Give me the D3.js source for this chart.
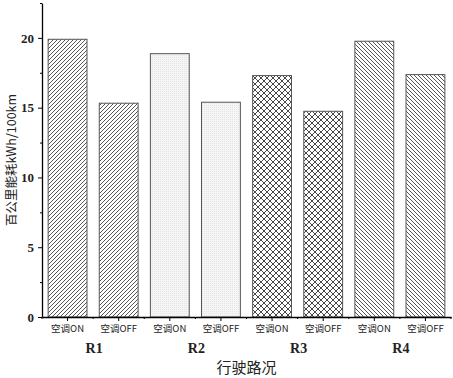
<!DOCTYPE html>
<html>
<head>
<meta charset="utf-8">
<script src="https://cdn.jsdelivr.net/npm/d3@7/dist/d3.min.js"></script>
<style>
  body { margin: 0; background: #fff; }
  svg { display: block; }
</style>
</head>
<body>
<div id="chart"></div>
<script>
// data
const routes = ['R1', 'R2', 'R3', 'R4'];
const acStates = ['空调ON', '空调OFF'];
const energy = [19.9, 15.32, 18.87, 15.39, 17.3, 14.74, 19.76, 17.37];
const yTicks = [0, 5, 10, 15, 20];
const yMinorTicks = [2.5, 7.5, 12.5, 17.5, 22.5];

const W = 453, H = 378;
const margin = { top: 3, right: 2, bottom: 61, left: 42 };
const width = W - margin.left - margin.right;
const height = H - margin.top - margin.bottom;

const bars = [];
routes.forEach((r, ri) => {
  acStates.forEach((s, si) => {
    const i = ri * acStates.length + si;
    bars.push({ key: r + '-' + s, route: r, ri, label: s, value: energy[i] });
  });
});

const svg = d3.select('#chart').append('svg')
  .attr('width', W).attr('height', H);

// hatch patterns, one per route
const defs = svg.append('defs');
const hatch = (id, size, draw) => {
  const p = defs.append('pattern').attr('id', id)
    .attr('patternUnits', 'userSpaceOnUse')
    .attr('width', size).attr('height', size);
  p.append('rect').attr('width', size).attr('height', size).attr('fill', '#fff');
  draw(p);
};
hatch('pat0', 4, p => p.append('path').attr('d', 'M-1,1 l2,-2 M0,4 l4,-4 M3,5 l2,-2')
  .attr('stroke', '#444').attr('stroke-width', 0.9));
hatch('pat1', 2, p => {
  p.append('rect').attr('width', 2).attr('height', 2).attr('fill', '#f5f5f5');
  p.append('rect').attr('width', 1).attr('height', 1).attr('fill', '#e6e6e6');
});
hatch('pat2', 6, p => p.append('path')
  .attr('d', 'M-1,1 l2,-2 M0,6 l6,-6 M5,7 l2,-2 M-1,5 l2,2 M0,0 l6,6 M5,-1 l2,2')
  .attr('stroke', '#333').attr('stroke-width', 0.9));
hatch('pat3', 4, p => p.append('path').attr('d', 'M-1,3 l2,2 M0,0 l4,4 M3,-1 l2,2')
  .attr('stroke', '#444').attr('stroke-width', 0.9));

const g = svg.append('g').attr('transform', `translate(${margin.left},${margin.top})`);

const x = d3.scaleBand().domain(bars.map(d => d.key)).range([0, width]).paddingInner(0.24).paddingOuter(0.12);
const y = d3.scaleLinear().domain([0, 22.5]).range([height, 0]);

// bars
g.selectAll('.bar').data(bars).join('rect')
  .attr('class', 'bar')
  .attr('x', d => x(d.key))
  .attr('y', d => y(d.value))
  .attr('width', x.bandwidth())
  .attr('height', d => y(0) - y(d.value))
  .attr('fill', d => `url(#pat${d.ri})`)
  .attr('stroke', '#555').attr('stroke-width', 1);

// y axis
const yAxis = g.append('g')
  .call(d3.axisLeft(y).tickValues(yTicks).tickSize(4).tickPadding(4).tickSizeOuter(0));
yAxis.selectAll('text').attr('font-family', '"Liberation Serif", serif')
  .attr('font-weight', 'bold').attr('font-size', '13px').attr('fill', '#222');
g.append('g')
  .call(d3.axisLeft(y).tickValues(yMinorTicks).tickSize(2).tickFormat('').tickSizeOuter(0))
  .select('.domain').remove();

// x axis
const xAxis = g.append('g').attr('transform', `translate(0,${height})`)
  .call(d3.axisBottom(x).tickSize(4).tickPadding(4).tickSizeOuter(0)
    .tickFormat(k => bars.find(b => b.key === k).label));
xAxis.selectAll('text').attr('font-family', '"Noto Sans CJK SC", sans-serif')
  .attr('font-size', '9.5px').attr('fill', '#222');
// small ticks between bars
const step = x.step();
g.append('g').selectAll('line').data(d3.range(bars.length + 1)).join('line')
  .attr('x1', i => i * step).attr('x2', i => i * step)
  .attr('y1', height).attr('y2', height + 2)
  .attr('stroke', '#000');

g.selectAll('.domain').attr('stroke', '#000').attr('stroke-width', 1.3);

// route labels under each pair
routes.forEach((r, ri) => {
  const k0 = bars[ri * 2].key, k1 = bars[ri * 2 + 1].key;
  const cx = (x(k0) + x(k1) + x.bandwidth()) / 2;
  g.append('text')
    .attr('x', cx + 1).attr('y', height + 36)
    .attr('text-anchor', 'middle')
    .attr('font-family', '"Liberation Serif", serif')
    .attr('font-weight', 'bold').attr('font-size', '14px').attr('fill', '#222')
    .text(r);
});

// axis titles
svg.append('text')
  .attr('x', margin.left + width / 2).attr('y', 373)
  .attr('text-anchor', 'middle')
  .attr('font-family', '"Noto Sans CJK SC", sans-serif')
  .attr('font-size', '15px').attr('fill', '#222')
  .text('行驶路况');

svg.append('text')
  .attr('transform', `translate(16,${margin.top + height / 2}) rotate(-90)`)
  .attr('text-anchor', 'middle')
  .attr('font-family', '"Noto Sans CJK SC", sans-serif')
  .attr('font-size', '12.5px').attr('fill', '#222')
  .text('百公里能耗kWh/100km');
</script>
</body>
</html>
